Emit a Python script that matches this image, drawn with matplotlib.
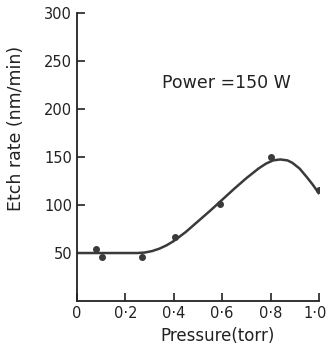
import numpy as np
import matplotlib
matplotlib.use("Agg")
import matplotlib.pyplot as plt

# measured points (pressure in torr, etch rate in nm/min)
p_meas = [0.08, 0.105, 0.27, 0.405, 0.59, 0.80, 1.0]
r_meas = [54, 46, 46, 67, 101, 150, 116]

# fitted curve
p_curve = [0.0, 0.1, 0.2, 0.25, 0.28, 0.31, 0.34, 0.37, 0.40, 0.45, 0.5, 0.55,
           0.6, 0.65, 0.7, 0.75, 0.78, 0.81, 0.84, 0.87, 0.89, 0.92,
           0.95, 0.975, 1.0]
r_curve = [50, 50, 50, 50, 50.5, 52, 54.5, 58, 62.5, 72, 83, 94,
           105.5, 117, 128, 138, 143, 146.5, 147.5, 146.5, 144, 138,
           129, 121, 112]

xticks = [0, 0.2, 0.4, 0.6, 0.8, 1.0]
xticklabels = ["0", "0·2", "0·4", "0·6", "0·8", "1·0"]
yticks = [50, 100, 150, 200, 250, 300]

col = "#3a3a3a"
ink = "#222222"

fig = plt.figure(figsize=(3.34, 3.49), dpi=100)
ax = fig.add_axes([0.2305, 0.1375, 0.7245, 0.825])

ax.plot(p_curve, r_curve, color=col, lw=1.8, solid_capstyle="round",
        solid_joinstyle="round")
ax.plot(p_meas, r_meas, "o", color=col, ms=4)

ax.set_xlim(0, 1.0)
ax.set_ylim(0, 300)
ax.set_xticks(xticks)
# last label is drawn separately, nudged left so it stays inside the figure
ax.set_xticklabels(xticklabels[:-1] + [""])
ax.set_yticks(yticks)

for s in ["top", "right"]:
    ax.spines[s].set_visible(False)
for s in ["left", "bottom"]:
    ax.spines[s].set_linewidth(1.3)
    ax.spines[s].set_color(ink)

ax.tick_params(direction="in", length=6, width=1.2, colors=ink,
               labelsize=10.5, pad=3.5)

ax.annotate(xticklabels[-1], xy=(xticks[-1], 0), xycoords=ax.get_xaxis_transform(),
            xytext=(-3, -3.5), textcoords="offset points",
            ha="center", va="top", fontsize=10.5, color=ink)

ax.set_xlabel("Pressure(torr)", fontsize=12, color=ink)
ax.xaxis.set_label_coords(0.58, -0.09)
ax.set_ylabel("Etch rate (nm/min)", fontsize=12.5, color=ink)
ax.yaxis.set_label_coords(-0.215, 0.60)

ax.text(0.35, 227, "Power =150 W", fontsize=12.5, color=ink,
        va="center", ha="left")

fig.savefig("out.png", dpi=100)
